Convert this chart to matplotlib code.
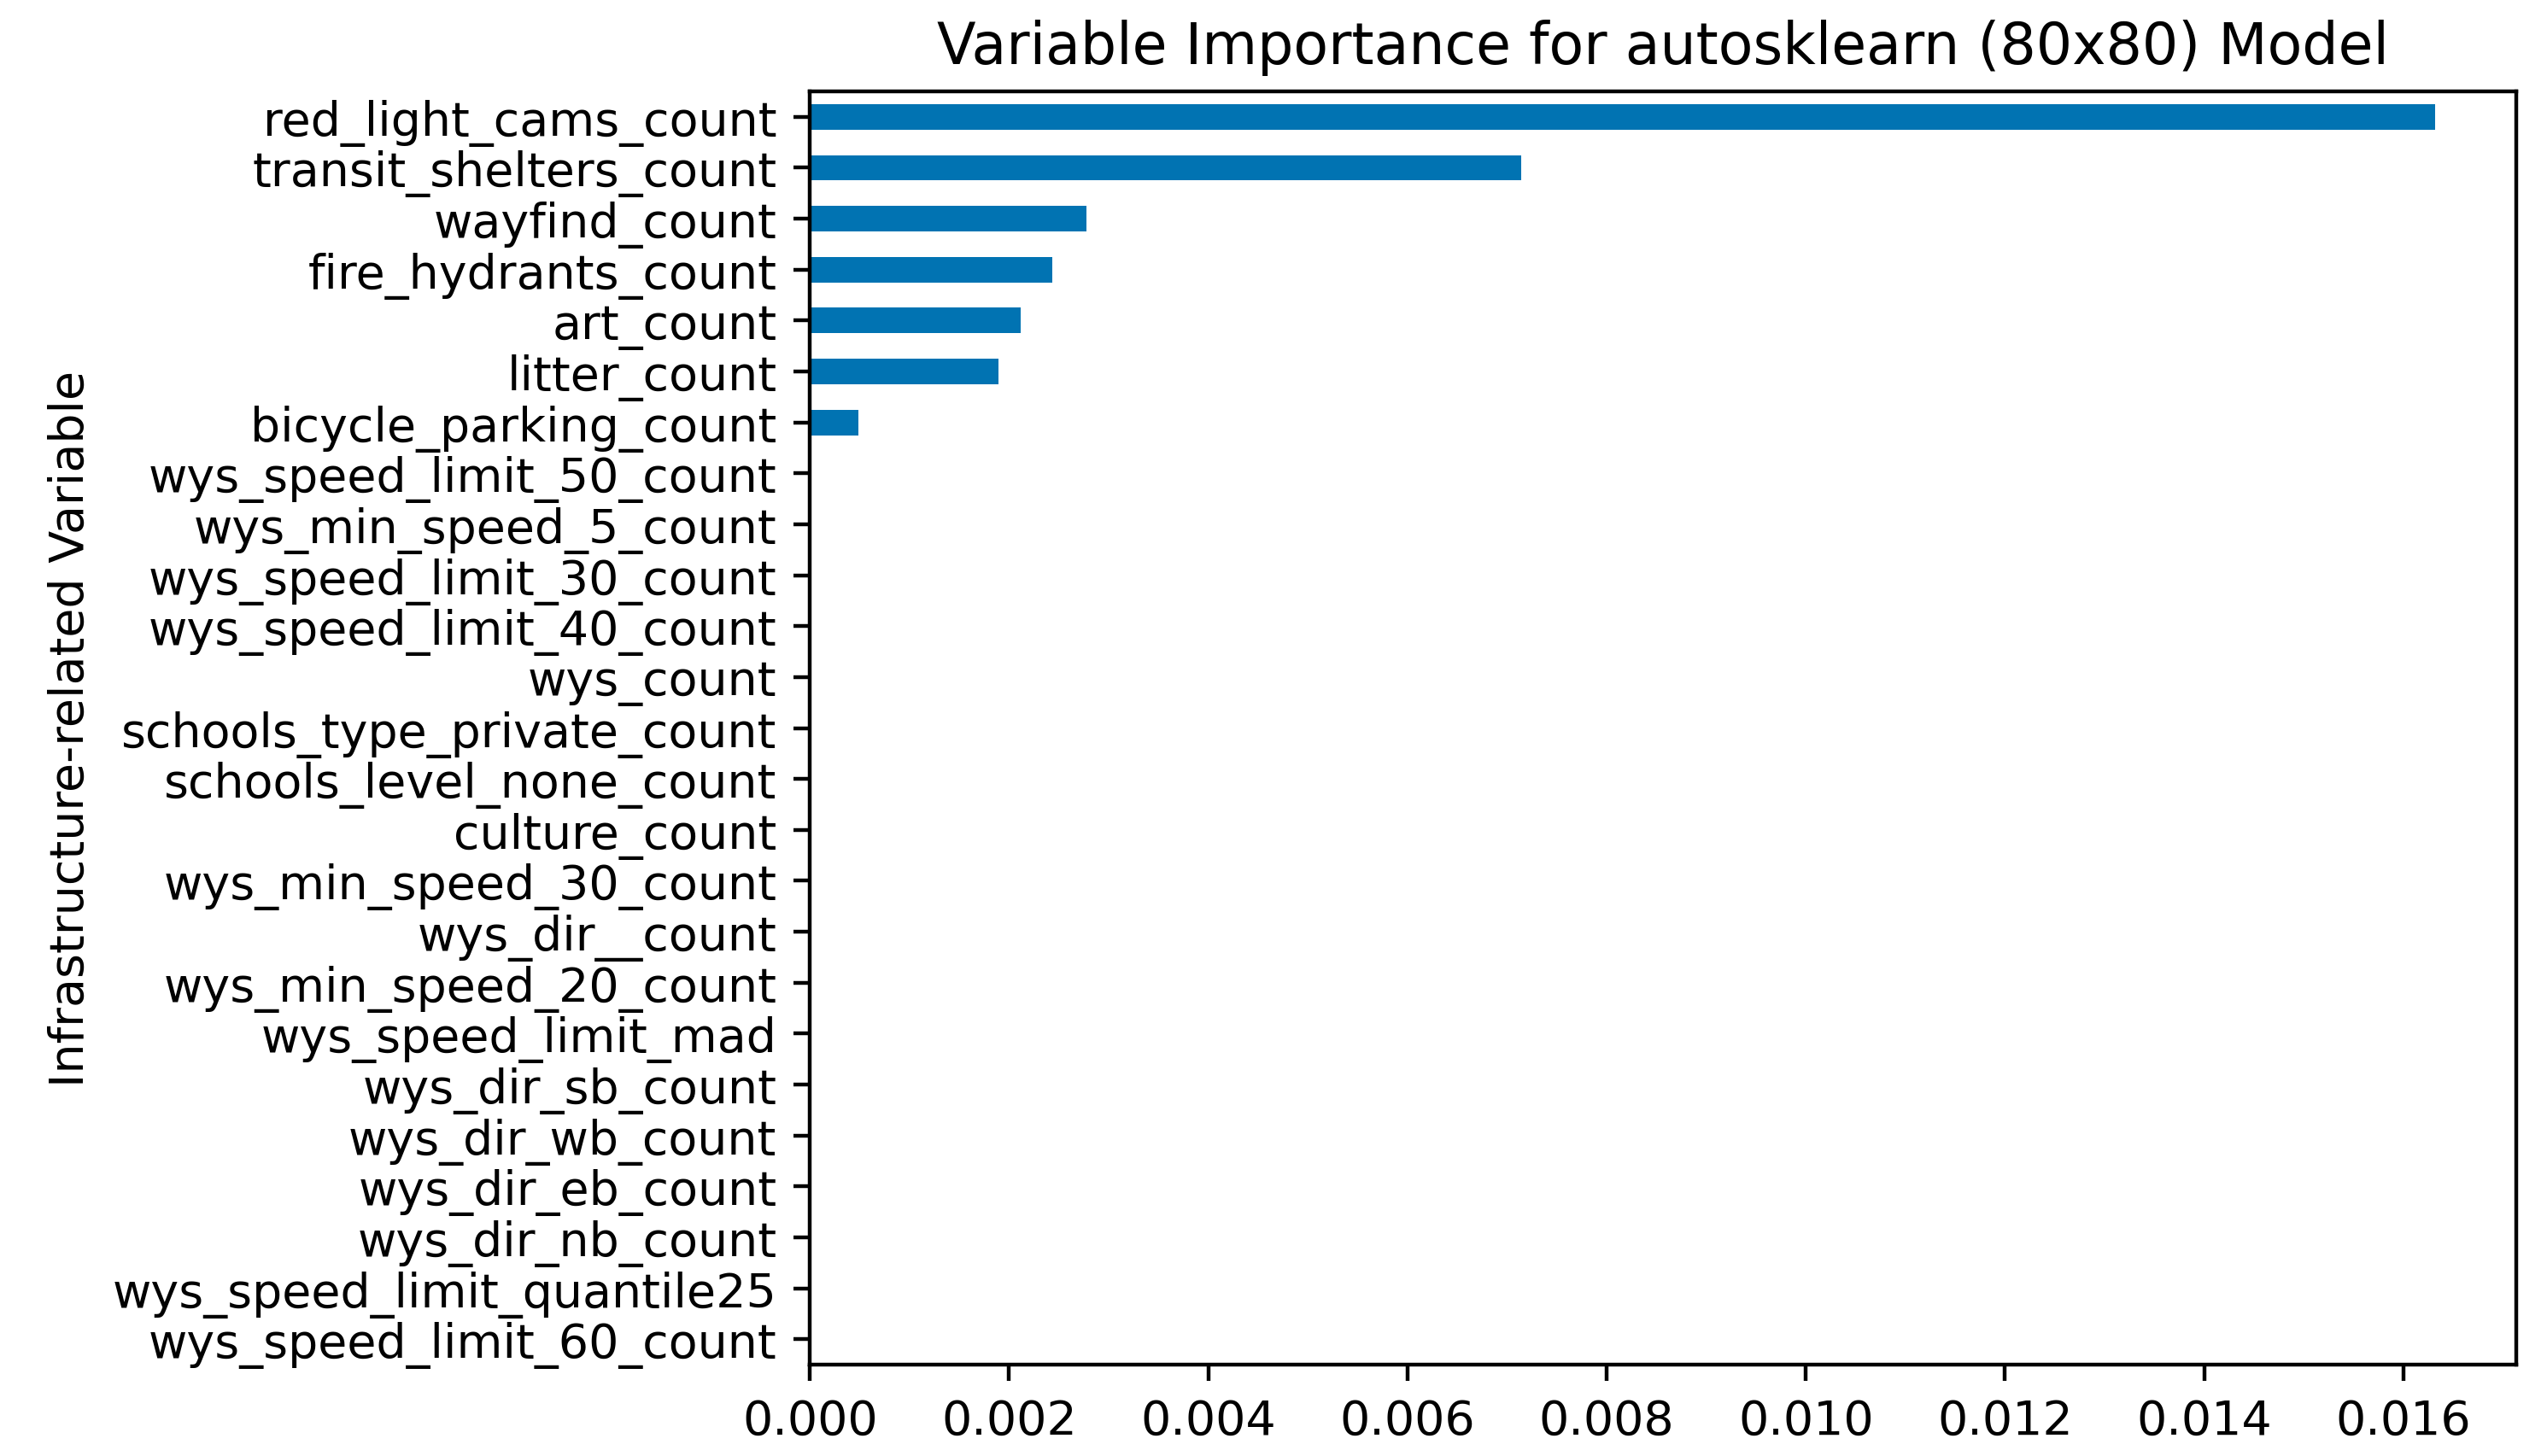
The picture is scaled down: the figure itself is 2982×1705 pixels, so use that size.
import pandas as pd
import matplotlib
matplotlib.use('Agg')
import matplotlib.pyplot as plt

# variables listed top to bottom as in the chart
variables = [
    'red_light_cams_count',
    'transit_shelters_count',
    'wayfind_count',
    'fire_hydrants_count',
    'art_count',
    'litter_count',
    'bicycle_parking_count',
    'wys_speed_limit_50_count',
    'wys_min_speed_5_count',
    'wys_speed_limit_30_count',
    'wys_speed_limit_40_count',
    'wys_count',
    'schools_type_private_count',
    'schools_level_none_count',
    'culture_count',
    'wys_min_speed_30_count',
    'wys_dir__count',
    'wys_min_speed_20_count',
    'wys_speed_limit_mad',
    'wys_dir_sb_count',
    'wys_dir_wb_count',
    'wys_dir_eb_count',
    'wys_dir_nb_count',
    'wys_speed_limit_quantile25',
    'wys_speed_limit_60_count',
]
importance = [
    0.01632, 0.00714, 0.00278, 0.00243, 0.00212, 0.00189, 0.00049,
    0.0, 0.0, 0.0, 0.0, 0.0, 0.0, 0.0, 0.0, 0.0, 0.0, 0.0,
    0.0, 0.0, 0.0, 0.0, 0.0, 0.0, 0.0,
]

imp = pd.Series(importance, index=variables)[::-1]

fig = plt.figure(figsize=(7.455, 4.265), dpi=400)
ax = fig.add_axes([0.318, 0.0627, 0.670, 0.874])
imp.plot.barh(ax=ax, color='#0173B2')
ax.set_title('Variable Importance for autosklearn (80x80) Model')
ax.set_ylabel('Infrastructure-related Variable')

fig.savefig('out.png', dpi=400)
